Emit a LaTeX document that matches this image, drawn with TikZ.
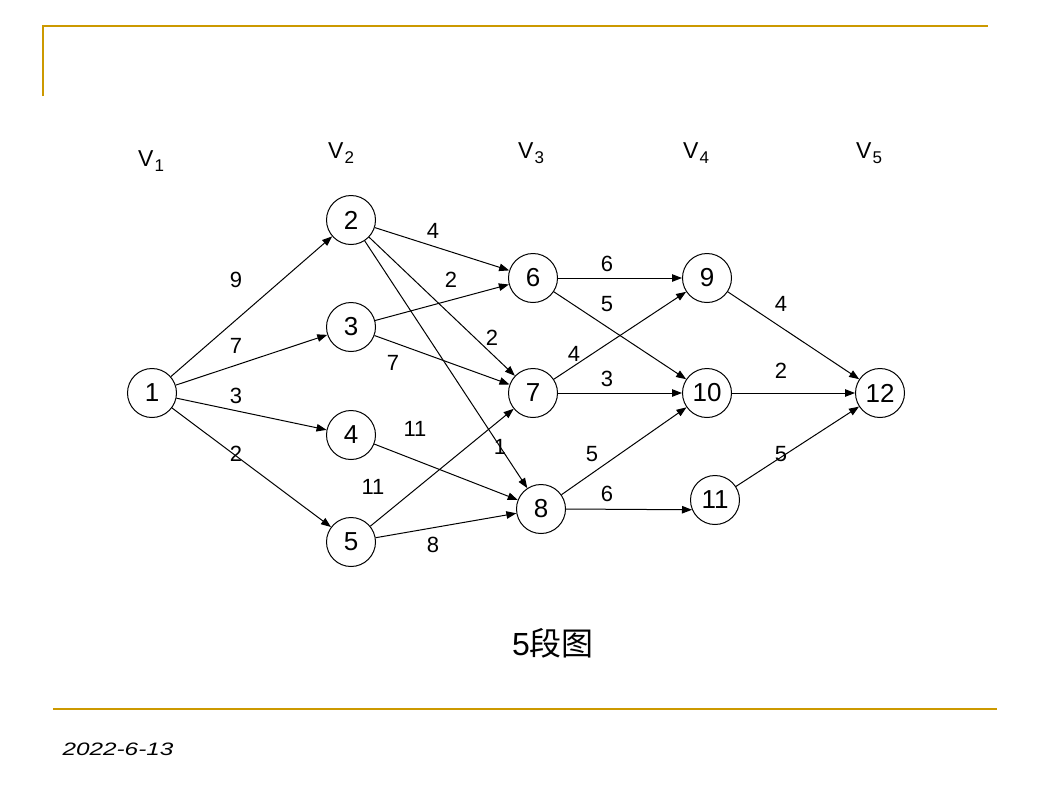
\documentclass[tikz,border=0pt]{standalone}
\usepackage{fontspec}
\usepackage{graphicx}
\setmainfont{Liberation Sans}
\newfontfamily\cjk{Noto Sans CJK SC}
\usetikzlibrary{arrows.meta}
\definecolor{gold}{RGB}{204,153,0}
\newcommand{\stagelab}[1]{V\kern1pt\raisebox{-5pt}{\fontsize{17}{18}\selectfont #1}}
\begin{document}
\begin{tikzpicture}[x=1pt,y=-1pt,
  vert/.style={circle,draw,line width=1pt,minimum size=49pt,inner sep=0pt,font=\fontsize{26}{30}\selectfont},
  wlab/.style={inner sep=0pt,font=\fontsize{22}{26}\selectfont},
  stage/.style={inner sep=0pt,anchor=base west,font=\fontsize{23}{26}\selectfont},
  arc/.style={line width=1pt,-{Triangle[length=10pt,width=7.5pt]}},
  rule/.style={gold,line width=2pt}]
\useasboundingbox (0,0) rectangle (1050,788);
% frame lines
\coordinate (tl) at (43,26);
\coordinate (tr) at (988,26);
\coordinate (lb) at (43,96);
\coordinate (bl) at (53,709);
\coordinate (br) at (997,709);
\draw[rule] (lb) -- (tl) -- (tr);
\draw[rule] (bl) -- (br);
% stage labels
\node[stage] (s1) at (138,166.5) {\stagelab{1}};
\node[stage] (s2) at (328,158.5) {\stagelab{2}};
\node[stage] (s3) at (518,158.5) {\stagelab{3}};
\node[stage] (s4) at (683,158.5) {\stagelab{4}};
\node[stage] (s5) at (856,158.5) {\stagelab{5}};
% vertices
\node[vert] (n1) at (152,393) {1};
\node[vert] (n2) at (351,220) {2};
\node[vert] (n3) at (351,327) {3};
\node[vert] (n4) at (351,435) {4};
\node[vert] (n5) at (351,542) {5};
\node[vert] (n6) at (533,278) {6};
\node[vert] (n7) at (533,393) {7};
\node[vert] (n8) at (541,509) {8};
\node[vert] (n9) at (707,278) {9};
\node[vert] (n10) at (707,393) {10};
\node[vert] (n11) at (715,500) {11};
\node[vert] (n12) at (880,393) {12};
% arcs
\draw[arc] (n1) -- (n2);
\draw[arc] (n1) -- (n3);
\draw[arc] (n1) -- (n4);
\draw[arc] (n1) -- (n5);
\draw[arc] (n2) -- (n6);
\draw[arc] (n2) -- (n7);
\draw[arc] (n2) -- (n8);
\draw[arc] (n3) -- (n6);
\draw[arc] (n3) -- (n7);
\draw[arc] (n4) -- (n8);
\draw[arc] (n5) -- (n7);
\draw[arc] (n5) -- (n8);
\draw[arc] (n6) -- (n9);
\draw[arc] (n6) -- (n10);
\draw[arc] (n7) -- (n9);
\draw[arc] (n7) -- (n10);
\draw[arc] (n8) -- (n10);
\draw[arc] (n8.east) -- (n11.203);
\draw[arc] (n9) -- (n12);
\draw[arc] (n10) -- (n12);
\draw[arc] (n11) -- (n12);
% weights
\node[wlab] (w12) at (236,280) {9};
\node[wlab] (w13) at (236,346) {7};
\node[wlab] (w14) at (236,396) {3};
\node[wlab] (w15) at (236,454) {2};
\node[wlab] (w26) at (433,231) {4};
\node[wlab] (w36) at (451,280) {2};
\node[wlab] (w27) at (492,338) {2};
\node[wlab] (w37) at (393,363) {7};
\node[wlab] (w48) at (415,429) {11};
\node[wlab] (w28) at (500,447) {1};
\node[wlab] (w57) at (373,487) {11};
\node[wlab] (w58) at (433,545) {8};
\node[wlab] (w69) at (607,264) {6};
\node[wlab] (w610) at (607,304) {5};
\node[wlab] (w79) at (574,354) {4};
\node[wlab] (w710) at (607,379) {3};
\node[wlab] (w810) at (592,454) {5};
\node[wlab] (w811) at (607,494) {6};
\node[wlab] (w912) at (781,304) {4};
\node[wlab] (w1012) at (781,371) {2};
\node[wlab] (w1112) at (781,454) {5};
% caption and date
\node[inner sep=0pt,font=\fontsize{32}{36}\selectfont] (cap) at (553,643) {5{\cjk 段图}};
\node[inner sep=0pt,font=\fontsize{18}{22}\selectfont] (date) at (118,749) {\scalebox{1.35}[1]{\itshape 2022-6-13}};
\end{tikzpicture}
\end{document}
